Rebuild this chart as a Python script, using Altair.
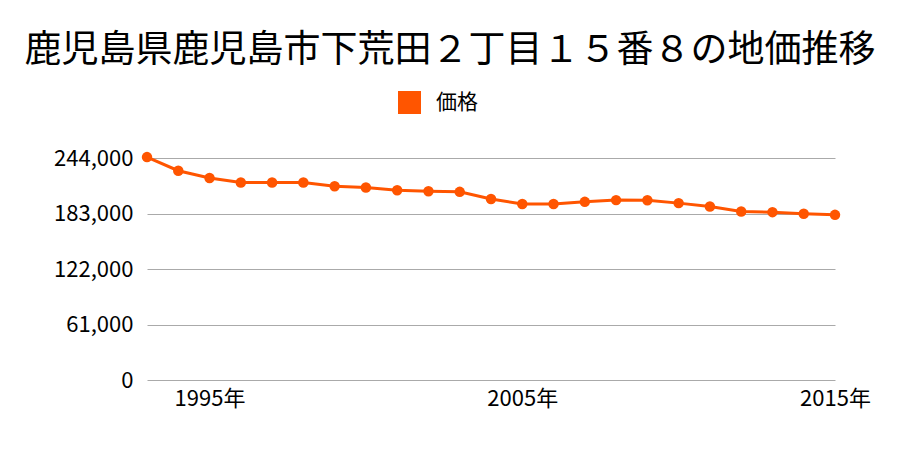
import altair as alt
import pandas as pd

years = list(range(1993, 2016))
prices = [245000, 230000, 222000, 217000, 217000, 217000, 213000, 211500,
          208500, 207500, 206800, 199000, 193500, 193500, 195800, 197700,
          197500, 194400, 190700, 185200, 184500, 182700, 181500]
series = ["価格"] * len(years)
y_ticks = [0, 61000, 122000, 183000, 244000]
x_ticks = [1995, 2005, 2015]

df = pd.DataFrame({"year": years, "price": prices, "series": series})

FONT = "Noto Sans CJK JP"
COLOR = "#ff5500"

x = alt.X("year:Q", scale=alt.Scale(domain=[1993, 2015], nice=False, zero=False),
          axis=alt.Axis(values=x_ticks, labelExpr="datum.value + '年'", title=None,
                        grid=False, domain=False, ticks=False, labelFontSize=22,
                        labelFont=FONT, labelColor="#000", labelPadding=8,
                        labelFlush=False))
y = alt.Y("price:Q", scale=alt.Scale(domain=[0, 244000], nice=False),
          axis=alt.Axis(values=y_ticks, format=",d", title=None, domain=False,
                        ticks=False, labelFontSize=22, labelFont=FONT,
                        labelColor="#000", labelPadding=14, gridColor="#aaaaaa",
                        gridWidth=1))

base = alt.Chart(df)
line = base.mark_line(strokeWidth=3, color=COLOR).encode(x=x, y=y)
pts = base.mark_circle(size=110, opacity=1).encode(
    x=x, y=y,
    color=alt.Color("series:N", scale=alt.Scale(range=[COLOR]),
                    legend=alt.Legend(title=None, orient="none", legendX=250,
                                      legendY=-68, symbolType="square",
                                      symbolSize=529, labelFontSize=21,
                                      labelFont=FONT, labelColor="#000",
                                      labelOffset=14, padding=0,
                                      symbolOpacity=1)))

chart = alt.layer(line, pts).properties(
    width=688, height=222,
    title=alt.TitleParams("鹿児島県鹿児島市下荒田２丁目１５番８の地価推移",
                          fontSize=37, font=FONT, fontWeight="normal",
                          color="#000", anchor="middle", frame="group",
                          dx=-41, offset=20),
    autosize=alt.AutoSizeParams(type="none"),
    padding={"left": 147, "top": 158, "right": 65, "bottom": 70},
).configure_view(stroke=None)

chart.save("out.html", embed_options={"renderer": "svg", "actions": False})
